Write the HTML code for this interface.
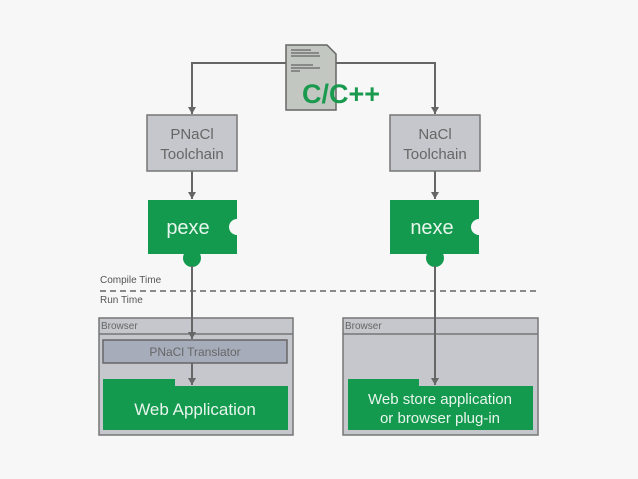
<!DOCTYPE html>
<html><head><style>
body{margin:0;background:#f7f7f7;}
svg{display:block;font-family:"Liberation Sans",sans-serif;}
</style></head><body>
<svg width="638" height="479" viewBox="0 0 638 479">
<rect width="638" height="479" fill="#f7f7f7"/>
<defs><marker id="a" markerWidth="8" markerHeight="8" refX="7" refY="4" orient="auto" markerUnits="userSpaceOnUse"><path d="M0,0 L7,4 L0,8 Z" fill="#666"/></marker></defs>
<g stroke="#666" stroke-width="2" fill="none">
<path d="M286,63 H192 V114" marker-end="url(#a)"/>
<path d="M336,63 H435 V114" marker-end="url(#a)"/>
<path d="M192,171 V199" marker-end="url(#a)"/>
<path d="M435,171 V199" marker-end="url(#a)"/>
</g>
<path d="M286,45 H327 L336,54 V110 H286 Z" fill="#c2c7c1" stroke="#666" stroke-width="1.5"/>
<g stroke="#666" stroke-width="1.2"><path d="M291,50 H311 M291,53 H319 M291,56 H320 M291,65 H313 M291,68 H320 M291,71 H300"/></g>
<text x="302" y="103" font-size="27" font-weight="bold" fill="#1a9a4f">C/C++</text>
<rect x="147" y="115" width="90" height="56" fill="#c5c7cc" stroke="#777" stroke-width="1.5"/>
<rect x="390" y="115" width="90" height="56" fill="#c5c7cc" stroke="#777" stroke-width="1.5"/>
<g font-size="15" fill="#666" text-anchor="middle">
<text x="192" y="139">PNaCl</text><text x="192" y="159">Toolchain</text>
<text x="435" y="139">NaCl</text><text x="435" y="159">Toolchain</text>
</g>
<g fill="#139a4f">
<rect x="148" y="200" width="89" height="54"/><circle cx="192" cy="258" r="9"/>
<rect x="390" y="200" width="89" height="54"/><circle cx="435" cy="258" r="9"/>
</g>
<circle cx="237" cy="227" r="8" fill="#f7f7f7"/>
<circle cx="479" cy="227" r="8" fill="#f7f7f7"/>
<g font-size="20" fill="#e8f5ec" text-anchor="middle">
<text x="188" y="234">pexe</text><text x="432" y="234">nexe</text>
</g>
<text x="100" y="283" font-size="10" fill="#555">Compile Time</text>
<text x="100" y="303" font-size="10" fill="#555">Run Time</text>
<line x1="100" y1="291" x2="538" y2="291" stroke="#666" stroke-width="1.5" stroke-dasharray="6,4"/>
<rect x="99" y="318" width="194" height="117" fill="#c5c7cc" stroke="#777" stroke-width="1.5"/>
<line x1="99" y1="334" x2="293" y2="334" stroke="#777" stroke-width="1.5"/>
<rect x="343" y="318" width="195" height="117" fill="#c5c7cc" stroke="#777" stroke-width="1.5"/>
<line x1="343" y1="334" x2="538" y2="334" stroke="#777" stroke-width="1.5"/>
<g font-size="10" fill="#666"><text x="101" y="329">Browser</text><text x="345" y="329">Browser</text></g>
<rect x="103" y="340" width="184" height="23" fill="#a6acba" stroke="#666" stroke-width="1.5"/>
<text x="195" y="356" font-size="12" fill="#666" text-anchor="middle">PNaCl Translator</text>
<path d="M103,379 H175 V386 H288 V430 H103 Z" fill="#139a4f"/>
<path d="M348,379 H419 V386 H533 V430 H348 Z" fill="#139a4f"/>
<text x="195" y="415" font-size="17" fill="#e8f5ec" text-anchor="middle">Web Application</text>
<g font-size="15" fill="#e8f5ec" text-anchor="middle"><text x="440" y="404">Web store application</text><text x="440" y="423">or browser plug-in</text></g>
<g stroke="#666" stroke-width="2" fill="none">
<path d="M192,266 V339" marker-end="url(#a)"/>
<path d="M192,363 V385" marker-end="url(#a)"/>
<path d="M435,266 V385" marker-end="url(#a)"/>
</g>
</svg>
</body></html>
